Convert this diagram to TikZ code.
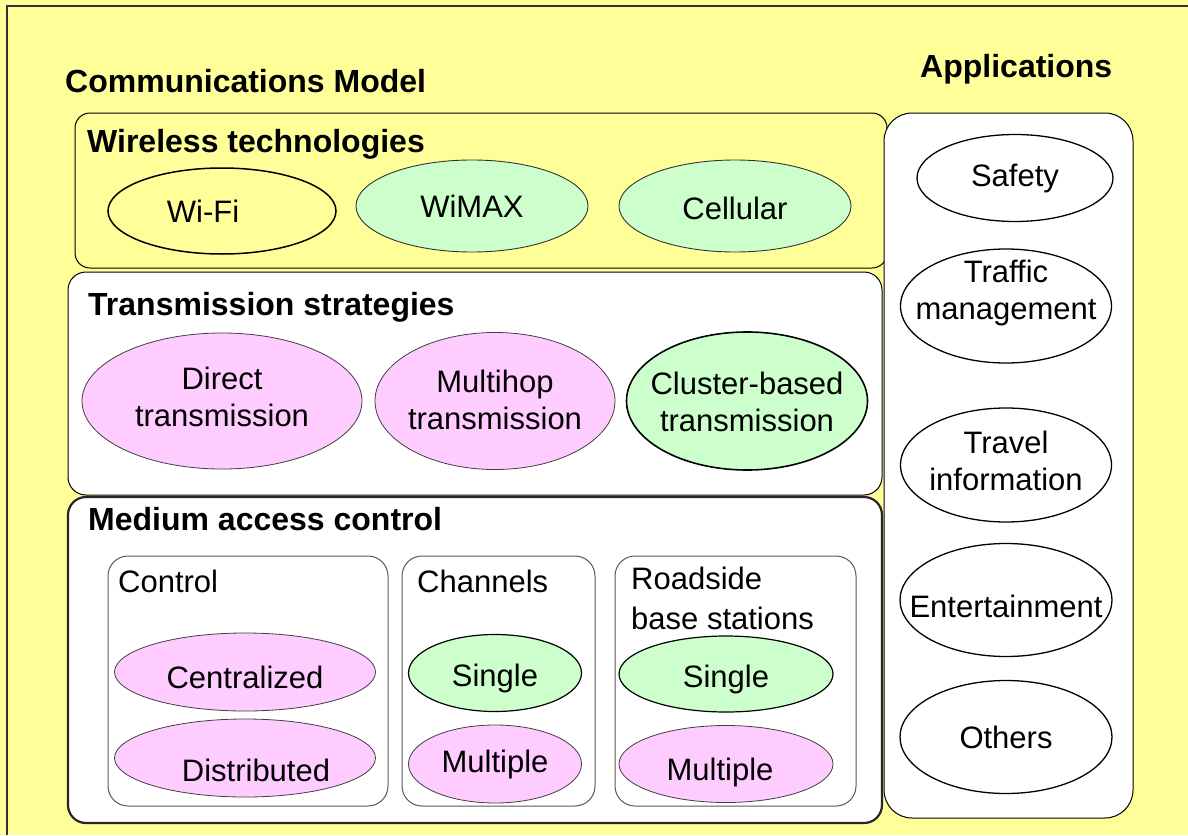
\documentclass[tikz,border=0pt]{standalone}
\usepackage{fontspec}
\setmainfont{Liberation Sans}
\usetikzlibrary{shapes.geometric}
\definecolor{bgyellow}{HTML}{FFFF99}
\definecolor{cellgreen}{HTML}{CCFFCC}
\definecolor{cellpink}{HTML}{FFCCFF}
\newcommand{\oneline}[1]{\makebox[0pt]{#1}}
\newcommand{\twolines}[2]{\makebox[0pt]{\begin{tabular}{@{}c@{}}#1\\#2\end{tabular}}}
\newcommand{\dropby}[2]{\raisebox{-#1}[\height][\depth]{#2}}

\begin{document}
\begin{tikzpicture}[x=1pt,y=-1pt,
  every node/.style={font=\fontsize{31}{37}\selectfont},
  heading/.style={font=\fontsize{32}{37}\selectfont\bfseries, anchor=base west, inner sep=0pt},
  boxtitle/.style={anchor=base west, inner sep=0pt},
  layerbox/.style={draw, line width=1pt, rounded corners=18pt},
  groupbox/.style={draw=black!65, line width=1pt, rounded corners=20pt, fill=white},
  oval/.style={ellipse, draw, line width=1pt, inner sep=0pt},
  pinkoval/.style={oval, fill=cellpink, draw=black!75, line width=0.8pt},
  greenoval/.style={oval, fill=cellgreen, line width=1.2pt},
  appoval/.style={oval, fill=white, line width=1.3pt}]
  \useasboundingbox (0,0) rectangle (1188,835);
  \fill[bgyellow] (0,0) rectangle (1188,835);
  \draw[line width=2pt, black!80] (7,835) -- (7,6) -- (1188,6);

  % the layers
  \draw[layerbox, fill=bgyellow, rounded corners=15pt] (75,113) rectangle (887,268);
  \draw[layerbox, fill=white] (68,272) rectangle (882,495);
  \draw[layerbox, fill=white, line width=2.2pt, draw=black!85] (68,497) rectangle (882,823);
  \draw[layerbox, fill=white, rounded corners=28pt] (884,113) rectangle (1133,818);

  \node[heading] (commtitle) at (65,92) {Communications Model};
  \node[heading] (apptitle) at (920,77) {Applications};

  % wireless technologies
  \node[heading] (wltitle) at (87,152) {Wireless technologies};
  \node[oval, fill=bgyellow, line width=1.5pt, minimum width=228pt, minimum height=86pt] (wifi) at (222,211) {\oneline{Wi-Fi\hspace*{38pt}}};
  \node[greenoval, draw=black!80, line width=0.9pt, minimum width=232pt, minimum height=92pt] (wimax) at (472,206) {\oneline{WiMAX}};
  \node[greenoval, draw=black!80, line width=0.9pt, minimum width=232pt, minimum height=92pt] (cellular) at (735,206) {\oneline{\dropby{2pt}{Cellular}}};

  % transmission strategies
  \node[heading] (tstitle) at (88,315) {Transmission strategies};
  \node[pinkoval, minimum width=280pt, minimum height=136pt] (direct) at (222,401) {\twolines{Direct}{transmission}};
  \node[pinkoval, minimum width=240pt, minimum height=137pt] (multihop) at (495,401) {\dropby{3pt}{\twolines{Multihop}{transmission}}};
  \node[greenoval, line width=1.6pt, minimum width=241pt, minimum height=138pt] (cluster) at (747,401) {\dropby{5pt}{\twolines{Cluster-based}{transmission}}};

  % medium access control
  \node[heading] (mactitle) at (88,530) {Medium access control};
  \draw[groupbox] (108,556) rectangle (388,806);
  \draw[groupbox] (402,556) rectangle (595,806);
  \draw[groupbox] (615,556) rectangle (856,806);
  \node[boxtitle] (ctrltitle) at (118,592) {Control};
  \node[boxtitle] (chtitle) at (417,592) {Channels};
  \node[boxtitle] (rbtitle) at (631,589) {\begin{tabular}[t]{@{}l@{}}Roadside\\[3pt]base stations\end{tabular}};
  \node[pinkoval, minimum width=261pt, minimum height=78pt] (central) at (245,672) {\oneline{\dropby{5pt}{Centralized}}};
  \node[pinkoval, minimum width=261pt, minimum height=78pt] (distrib) at (245,758) {\oneline{\hspace*{22pt}\dropby{12pt}{Distributed}}};
  \node[greenoval, minimum width=173pt, minimum height=77pt] (chsingle) at (495,673) {\oneline{\dropby{5pt}{Single}}};
  \node[pinkoval, minimum width=173pt, minimum height=78pt] (chmulti) at (495,764) {\oneline{Multiple}};
  \node[greenoval, minimum width=214pt, minimum height=76pt] (rbsingle) at (726,674) {\oneline{\dropby{5pt}{Single}}};
  \node[pinkoval, minimum width=214pt, minimum height=77pt] (rbmulti) at (726,764) {\oneline{\hspace*{-12pt}\dropby{8pt}{Multiple}}};

  % applications
  \node[appoval, minimum width=196pt, minimum height=87pt] (safety) at (1015,178) {\oneline{Safety}};
  \node[appoval, minimum width=211pt, minimum height=114pt] (traffic) at (1006,306) {\raisebox{12pt}[\height][\depth]{\twolines{Traffic}{management}}};
  \node[appoval, minimum width=211pt, minimum height=114pt] (travel) at (1006,465) {\twolines{Travel}{information}};
  \node[appoval, minimum width=212pt, minimum height=113pt] (entertain) at (1006,600) {\oneline{\dropby{6pt}{Entertainment}}};
  \node[appoval, minimum width=212pt, minimum height=113pt] (others) at (1006,737) {\oneline{Others}};
\end{tikzpicture}
\end{document}
